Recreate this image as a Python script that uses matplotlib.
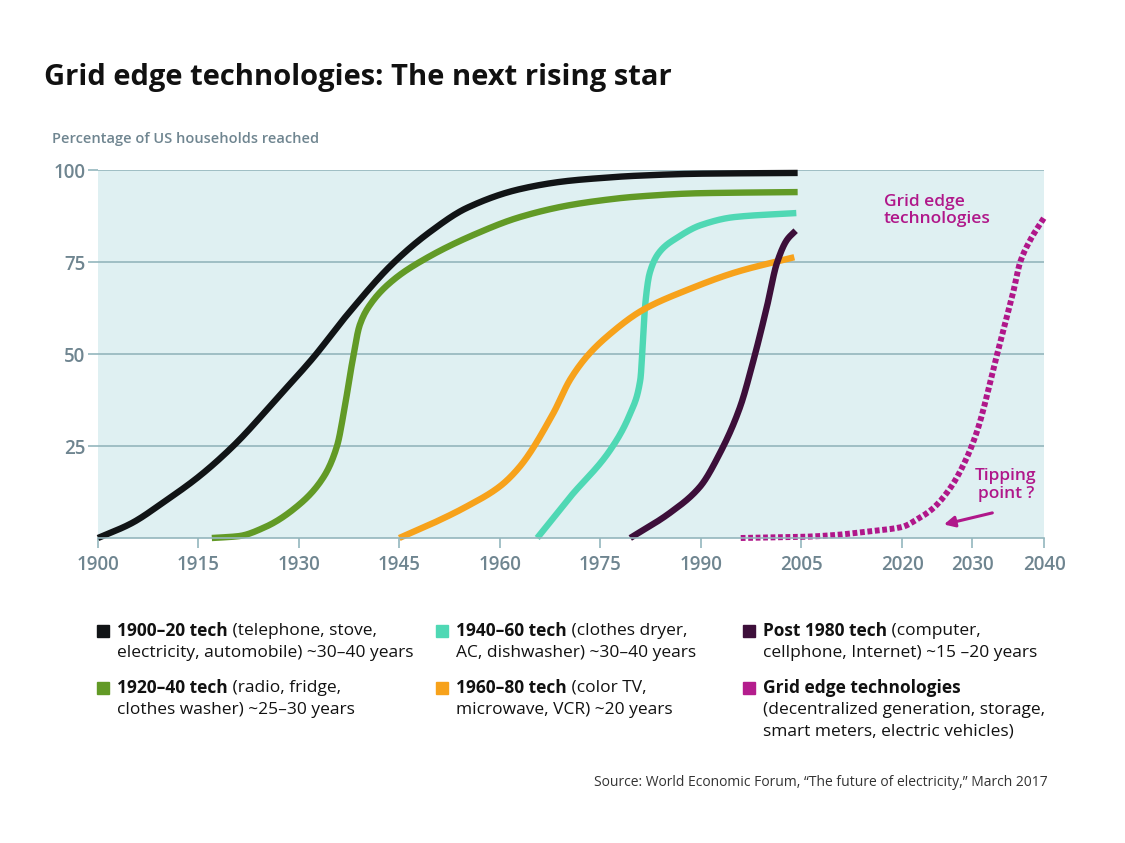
import numpy as np
import matplotlib
matplotlib.use("Agg")
import matplotlib.pyplot as plt

plt.rcParams['font.family'] = ['Open Sans', 'DejaVu Sans']

# adoption curves: (year, % of US households)
black_years = [1900, 1905, 1910, 1915, 1920.2, 1927.2, 1932.1, 1937.2, 1944.1,
               1949.6, 1955.1, 1963, 1970, 1975, 1980, 1990, 2004.5]
black_vals = [0, 4, 10, 16.6, 25, 38.9, 48.9, 60.6, 74.7, 83.2, 89.7, 94.8,
              97, 97.8, 98.4, 99, 99.2]

green_years = [1917, 1921, 1925, 1930, 1933.7, 1935.7, 1936.9, 1937.9, 1939.1,
               1940.6, 1944.1, 1949.1, 1956, 1963, 1970, 1975, 1980, 1990,
               2004.5]
green_vals = [0, 0.5, 3, 9, 16.6, 25, 36.1, 47, 57.9, 63.3, 70.1, 76.1, 82.3,
              87.2, 90.3, 91.7, 92.7, 93.7, 94]

teal_years = [1965.6, 1970.5, 1976.5, 1979.5, 1981, 1981.4, 1981.7, 1982.4,
              1984, 1986.5, 1990, 1995, 2004.3]
teal_vals = [0, 11.1, 23.9, 33.9, 43, 53.8, 62.8, 72, 78, 81.6, 85, 87.2, 88.3]

orange_years = [1945, 1950, 1955, 1960, 1963, 1968, 1970.5, 1973, 1976,
                1981.4, 1988, 1995.4, 2004]
orange_vals = [0, 4, 8.5, 14, 19.4, 33.9, 43, 49.3, 54.7, 62, 67.4, 72.3, 76.3]

purple_years = [1979.5, 1985.4, 1989.9, 1992.9, 1995.9, 1997.8, 1999.9, 2001.4,
                2002.9, 2004.2]
purple_vals = [0, 6.8, 13.9, 23.1, 35.6, 47.6, 62.8, 74.7, 81, 83.5]

grid_years = [1996, 2005, 2010, 2015, 2020, 2022.1, 2024.4, 2026.9, 2029.3,
              2030.7, 2033.5, 2035.7, 2036.7, 2038.1, 2040]
grid_vals = [0, 0.3, 0.8, 1.8, 3, 5, 8, 13.6, 22, 29, 50, 66.6, 75, 81, 87]

x_ticks = [1900, 1915, 1930, 1945, 1960, 1975, 1990, 2005, 2020, 2030, 2040]
y_ticks = [25, 50, 75, 100]

legend_items = [
    ("#111416", "1900\u201320 tech", " (telephone, stove,",
     ["electricity, automobile) ~30\u201340 years"]),
    ("#629a26", "1920\u201340 tech", " (radio, fridge,",
     ["clothes washer) ~25\u201330 years"]),
    ("#4fd8b4", "1940\u201360 tech", " (clothes dryer,",
     ["AC, dishwasher) ~30\u201340 years"]),
    ("#f7a21b", "1960\u201380 tech", " (color TV,",
     ["microwave, VCR) ~20 years"]),
    ("#3d0f3a", "Post 1980 tech", " (computer,",
     ["cellphone, Internet) ~15 \u201320 years"]),
    ("#b41d8d", "Grid edge technologies", "",
     ["(decentralized generation, storage,", "smart meters, electric vehicles)"]),
]

# the original's year axis is not quite uniform
knot_years = [1700, 1900, 2005, 2020, 2030, 2040, 2240]
knot_pos = [-1241, 98, 801, 902, 972, 1044, 2484]


def fwd(x):
    return np.interp(x, knot_years, knot_pos)


def inv(x):
    return np.interp(x, knot_pos, knot_years)


def pchip(xs, ys, n=500):
    # monotone cubic through the read points (Fritsch-Carlson)
    x = np.asarray(xs, float)
    y = np.asarray(ys, float)
    h = np.diff(x)
    d = np.diff(y) / h
    m = np.zeros_like(y)
    m[0], m[-1] = d[0], d[-1]
    for i in range(1, len(x) - 1):
        if d[i - 1] * d[i] <= 0:
            m[i] = 0
        else:
            w1 = 2 * h[i] + h[i - 1]
            w2 = h[i] + 2 * h[i - 1]
            m[i] = (w1 + w2) / (w1 / d[i - 1] + w2 / d[i])
    t = np.linspace(x[0], x[-1], n)
    k = np.clip(np.searchsorted(x, t) - 1, 0, len(x) - 2)
    s = (t - x[k]) / h[k]
    h00 = 2 * s**3 - 3 * s**2 + 1
    h10 = s**3 - 2 * s**2 + s
    h01 = -2 * s**3 + 3 * s**2
    h11 = s**3 - s**2
    out = h00 * y[k] + h10 * h[k] * m[k] + h01 * y[k + 1] + h11 * h[k] * m[k + 1]
    return t, out


W, H = 1125, 843
fig = plt.figure(figsize=(W / 100, H / 100), dpi=100)
ax = fig.add_axes([98 / W, 1 - 538 / H, (1044 - 98) / W, (538 - 170) / H])
ax.set_xscale('function', functions=(fwd, inv))
ax.set_xlim(1900, 2040)
ax.set_ylim(0, 100)
ax.set_facecolor('#dff0f2')

grid_c = '#94b6bd'
lab_c = '#6f8590'
for s in ['top', 'right', 'left']:
    ax.spines[s].set_visible(False)
ax.spines['bottom'].set_color(grid_c)
ax.spines['bottom'].set_linewidth(1.2)
ax.set_yticks(y_ticks)
ax.set_xticks(x_ticks)
ax.set_xticklabels([str(v) for v in x_ticks])
ax.yaxis.grid(True, color=grid_c, linewidth=1.2)
ax.set_axisbelow(True)
ax.tick_params(axis='y', direction='out', length=7, width=1.2, color=grid_c,
               labelsize=13.5, labelcolor=lab_c, pad=2)
ax.tick_params(axis='x', direction='out', length=7, width=1.2, color=grid_c,
               labelsize=13.5, labelcolor=lab_c, pad=5)
for lbl in ax.get_xticklabels() + ax.get_yticklabels():
    lbl.set_fontweight('semibold')

series = [
    (black_years, black_vals, "#111416"),
    (green_years, green_vals, "#629a26"),
    (teal_years, teal_vals, "#4fd8b4"),
    (orange_years, orange_vals, "#f7a21b"),
    (purple_years, purple_vals, "#3d0f3a"),
]
for xs, ys, c in series:
    t, y = pchip(xs, ys)
    ax.plot(t, y, color=c, lw=4.6, solid_capstyle='butt', clip_on=False)

t, y = pchip(grid_years, grid_vals)
ax.plot(t, y, color="#b0178a", lw=4.3, linestyle=(0, (0.8, 0.45)),
        dash_capstyle='butt', clip_on=False)

ax.text(2017.3, 89, "Grid edge\ntechnologies", color="#b0178a", fontsize=12.5,
        fontweight='semibold', va='center', ha='left', linespacing=1.1)
ax.text(2034.7, 14.4, "Tipping\npoint ?", color="#b0178a", fontsize=12.5,
        fontweight='semibold', va='center', ha='center', linespacing=1.1)
ax.annotate("", xy=(2025.6, 3.5), xytext=(2033.2, 7),
            arrowprops=dict(arrowstyle='-|>', color="#b0178a", lw=2.2,
                            mutation_scale=16))

fig.text(44 / W, 1 - 78 / H, "Grid edge technologies: The next rising star",
         fontsize=21, fontweight='bold', color='#111111', va='center')
fig.text(52 / W, 1 - 139 / H, "Percentage of US households reached",
         fontsize=10.5, fontweight='semibold', color=lab_c, va='center')

# legend
renderer = fig.canvas.get_renderer()
cols = [97, 436, 743]
rows = [631, 688]
line_h = 22
fs = 12.5
for i, (c, bold, rest, more) in enumerate(legend_items):
    cx = cols[i // 2]
    cy = rows[i % 2]
    fig.patches.append(plt.Rectangle((cx / W, 1 - (cy + 6) / H), 12 / W, 12 / H,
                                     transform=fig.transFigure, color=c))
    tx = cx + 20
    tb = fig.text(tx / W, 1 - cy / H, bold, fontsize=fs, fontweight='bold',
                  color='#111111', va='center')
    bb = tb.get_window_extent(renderer)
    if rest:
        fig.text(bb.x1 / W, 1 - cy / H, rest, fontsize=fs, color='#111111',
                 va='center')
    for j, line in enumerate(more):
        fig.text(tx / W, 1 - (cy + line_h * (j + 1)) / H, line, fontsize=fs,
                 color='#111111', va='center')

fig.text(1048 / W, 1 - 782 / H,
         "Source: World Economic Forum, \u201cThe future of electricity,\u201d March 2017",
         fontsize=10, color='#333333', ha='right', va='center')

fig.savefig("out.png", dpi=100, facecolor='white')
